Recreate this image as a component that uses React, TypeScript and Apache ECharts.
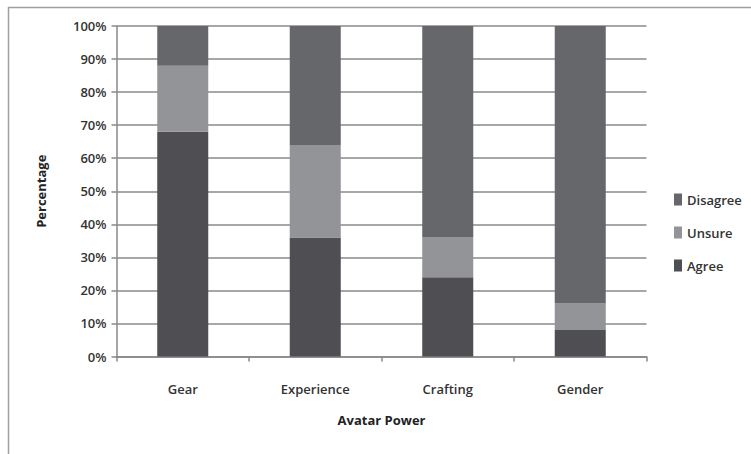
import React, { useEffect, useRef } from "react";
import * as echarts from "echarts";

const categories = ["Gear", "Experience", "Crafting", "Gender"];
const agree = [68, 36, 24, 8];
const unsure = [20, 28, 12, 8];
const disagree = [12, 36, 64, 84];

export default function App() {
  const ref = useRef<HTMLDivElement>(null);
  useEffect(() => {
    const chart = echarts.init(ref.current!, null, { renderer: "svg" });
    const font = "'Open Sans', 'DejaVu Sans', sans-serif";
    chart.setOption({
      animation: false,
      backgroundColor: "#fff",
      textStyle: { fontFamily: font },
      graphic: [
        {
          type: "rect",
          shape: { x: 8.5, y: 7.5, width: 760, height: 470 },
          style: { fill: "none", stroke: "#a0a0a0", lineWidth: 1.5 },
          silent: true,
        },
      ],
      grid: { left: 116.5, right: 104.5, top: 26, bottom: 97.5 },
      legend: {
        orient: "vertical",
        left: 669,
        top: 188,
        itemWidth: 8,
        itemHeight: 12,
        itemGap: 20,
        icon: "rect",
        data: ["Disagree", "Unsure", "Agree"],
        textStyle: { fontFamily: font, fontSize: 13, fontWeight: 600, color: "#333", padding: [0, 0, 0, 0] },
      },
      xAxis: {
        type: "category",
        data: categories,
        name: "Avatar Power",
        nameLocation: "middle",
        nameGap: 57,
        nameTextStyle: { fontFamily: font, fontSize: 13, fontWeight: "bold", color: "#222" },
        axisLine: { lineStyle: { color: "#888", width: 1.5 } },
        axisTick: { show: true, length: 5, lineStyle: { color: "#888", width: 1.5 } },
        axisLabel: { margin: 26, fontFamily: font, fontSize: 13, fontWeight: 600, color: "#333" },
      },
      yAxis: {
        type: "value",
        min: 0,
        max: 100,
        interval: 10,
        name: "Percentage",
        nameLocation: "middle",
        nameGap: 69,
        nameRotate: 90,
        nameTextStyle: { fontFamily: font, fontSize: 13, fontWeight: "bold", color: "#222" },
        axisLine: { show: true, lineStyle: { color: "#888", width: 1.5 } },
        axisTick: { show: true, length: 5, lineStyle: { color: "#888", width: 1.5 } },
        splitLine: { lineStyle: { color: "#8a8a8a", width: 1.5 } },
        axisLabel: {
          formatter: "{value}%",
          margin: 10,
          fontFamily: font,
          fontSize: 13,
          fontWeight: 600,
          color: "#333",
        },
      },
      series: [
        { name: "Agree", type: "bar", stack: "s", data: agree, barWidth: "38.5%", itemStyle: { color: "#4f4f53" } },
        { name: "Unsure", type: "bar", stack: "s", data: unsure, itemStyle: { color: "#939497" } },
        { name: "Disagree", type: "bar", stack: "s", data: disagree, itemStyle: { color: "#66676b" } },
      ],
    });
    return () => chart.dispose();
  }, []);
  return <div ref={ref} style={{ position: "absolute", left: 0, top: 0, width: 751, height: 454 }} />;
}
